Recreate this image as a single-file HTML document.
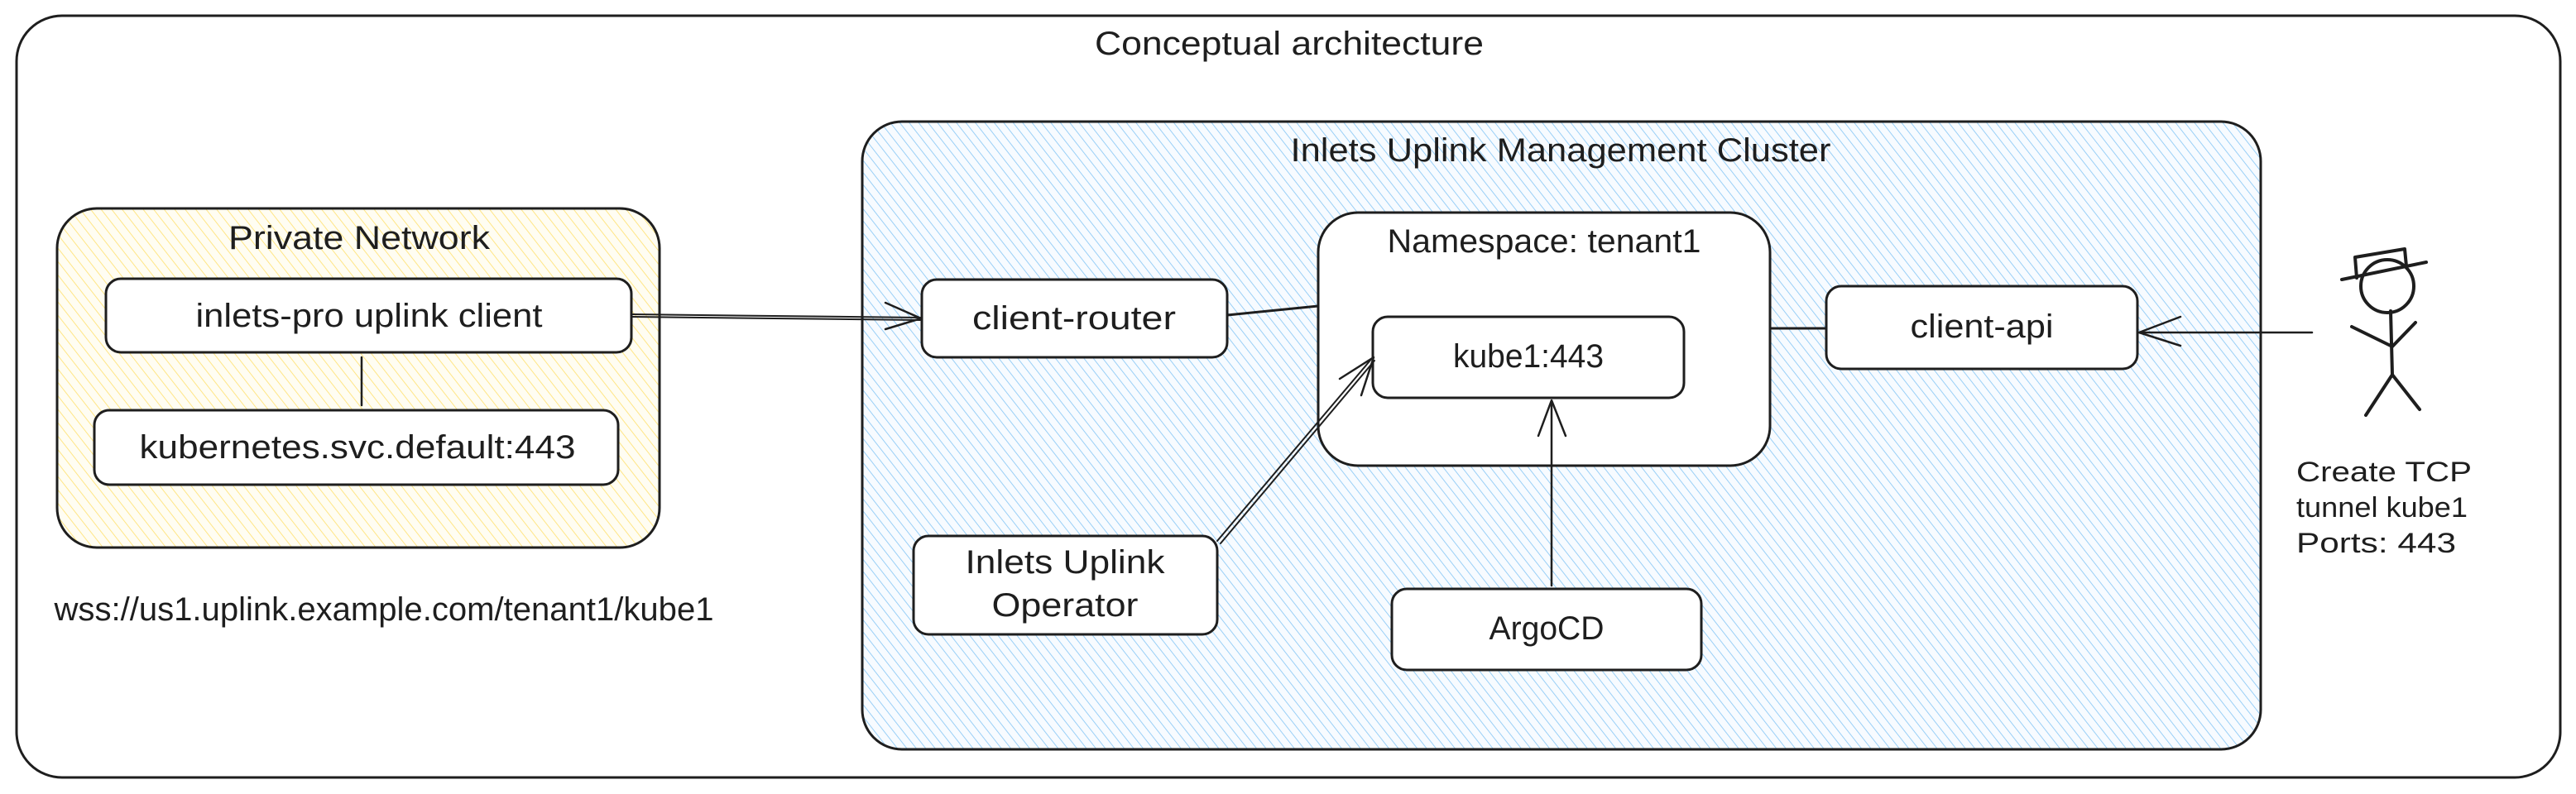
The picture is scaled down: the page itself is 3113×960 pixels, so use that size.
<!DOCTYPE html>
<html><head><meta charset="utf-8"><style>
html,body{margin:0;padding:0;background:#fff;}
svg{display:block;}
text{font-family:"Liberation Sans",sans-serif;fill:#1e1e1e;}
</style></head><body>
<svg width="3113" height="960" viewBox="0 0 3113 960" xmlns="http://www.w3.org/2000/svg">
<defs>
<pattern id="hy" width="10" height="10" patternUnits="userSpaceOnUse" patternTransform="rotate(-38)">
<rect width="10" height="10" fill="#fffdf2"/>
<line x1="0" y1="0" x2="0" y2="10" stroke="#ffe37a" stroke-width="1.8"/>
</pattern>
<pattern id="hb" width="9" height="9" patternUnits="userSpaceOnUse" patternTransform="rotate(-38)">
<rect width="9" height="9" fill="#f7fbff"/>
<line x1="0" y1="0" x2="0" y2="9" stroke="#8fcaf6" stroke-width="1.8"/>
</pattern>
</defs>
<g fill="none" stroke="#1e1e1e" stroke-width="3" stroke-linecap="round" stroke-linejoin="round">
<rect x="20" y="19" width="3074" height="921" rx="55" fill="#fff"/>
<rect x="69" y="252" width="728" height="410" rx="48" fill="url(#hy)"/>
<rect x="1042" y="147" width="1690" height="759" rx="48" fill="url(#hb)"/>
<rect x="1593" y="257" width="546" height="306" rx="48" fill="#fff"/>
<rect x="128" y="337" width="635" height="89" rx="18" fill="#fff"/>
<rect x="114" y="496" width="633" height="90" rx="18" fill="#fff"/>
<rect x="1114" y="338" width="369" height="94" rx="18" fill="#fff"/>
<rect x="1659" y="383" width="376" height="98" rx="18" fill="#fff"/>
<rect x="1104" y="648" width="367" height="119" rx="18" fill="#fff"/>
<rect x="1682" y="712" width="374" height="98" rx="18" fill="#fff"/>
<rect x="2207" y="346" width="376" height="100" rx="18" fill="#fff"/>
<line x1="437" y1="432" x2="437" y2="490" stroke-width="2.5"/>
<line x1="763" y1="380" x2="1112" y2="384" stroke-width="2"/>
<line x1="763" y1="383" x2="1112" y2="387" stroke-width="2"/>
<polyline points="1070,366 1113,385 1070,398" stroke-width="2.5"/>
<line x1="1483" y1="381" x2="1593" y2="370" stroke-width="3"/>
<line x1="1471" y1="654" x2="1659" y2="432" stroke-width="2"/>
<line x1="1475" y1="657" x2="1661" y2="436" stroke-width="2"/>
<polyline points="1619,458 1660,432 1645,478" stroke-width="2.5"/>
<line x1="1875" y1="708" x2="1875" y2="485" stroke-width="2.5"/>
<polyline points="1859,527 1875,484 1892,527" stroke-width="2.5"/>
<line x1="2139" y1="397" x2="2207" y2="397" stroke-width="3"/>
<line x1="2794" y1="402" x2="2585" y2="402" stroke-width="2.5"/>
<polyline points="2635,383 2585,402 2635,418" stroke-width="2.5"/>
<g stroke-width="4">
<circle cx="2885" cy="346" r="32"/>
<line x1="2830" y1="338" x2="2932" y2="317"/>
<polyline points="2848,336 2846,311 2906,301 2908,322"/>
<line x1="2889" y1="376" x2="2891" y2="453"/>
<polyline points="2842,395 2891,419 2919,390"/>
<polyline points="2859,502 2891,453 2924,495"/>
</g>
</g>
<g font-size="40" text-anchor="middle">
<text x="1558" y="66" textLength="470" lengthAdjust="spacingAndGlyphs">Conceptual architecture</text>
<text x="434" y="301" textLength="316" lengthAdjust="spacingAndGlyphs">Private Network</text>
<text x="446" y="395" textLength="419" lengthAdjust="spacingAndGlyphs">inlets-pro uplink client</text>
<text x="432" y="554" textLength="527" lengthAdjust="spacingAndGlyphs">kubernetes.svc.default:443</text>
<text x="464" y="750" textLength="797" lengthAdjust="spacingAndGlyphs">wss://us1.uplink.example.com/tenant1/kube1</text>
<text x="1886" y="195" textLength="653" lengthAdjust="spacingAndGlyphs">Inlets Uplink Management Cluster</text>
<text x="1866" y="305" textLength="379" lengthAdjust="spacingAndGlyphs">Namespace: tenant1</text>
<text x="1298" y="398" textLength="246" lengthAdjust="spacingAndGlyphs">client-router</text>
<text x="1847" y="444" textLength="182" lengthAdjust="spacingAndGlyphs">kube1:443</text>
<text x="1287" y="693" textLength="241" lengthAdjust="spacingAndGlyphs">Inlets Uplink</text>
<text x="1287" y="745" textLength="177" lengthAdjust="spacingAndGlyphs">Operator</text>
<text x="1869" y="773" textLength="139" lengthAdjust="spacingAndGlyphs">ArgoCD</text>
<text x="2395" y="408" textLength="173" lengthAdjust="spacingAndGlyphs">client-api</text>
</g>
<g font-size="34" text-anchor="start">
<text x="2775" y="582" textLength="212" lengthAdjust="spacingAndGlyphs">Create TCP</text>
<text x="2775" y="625" textLength="207" lengthAdjust="spacingAndGlyphs">tunnel kube1</text>
<text x="2775" y="668" textLength="193" lengthAdjust="spacingAndGlyphs">Ports: 443</text>
</g>
</svg>
</body></html>
